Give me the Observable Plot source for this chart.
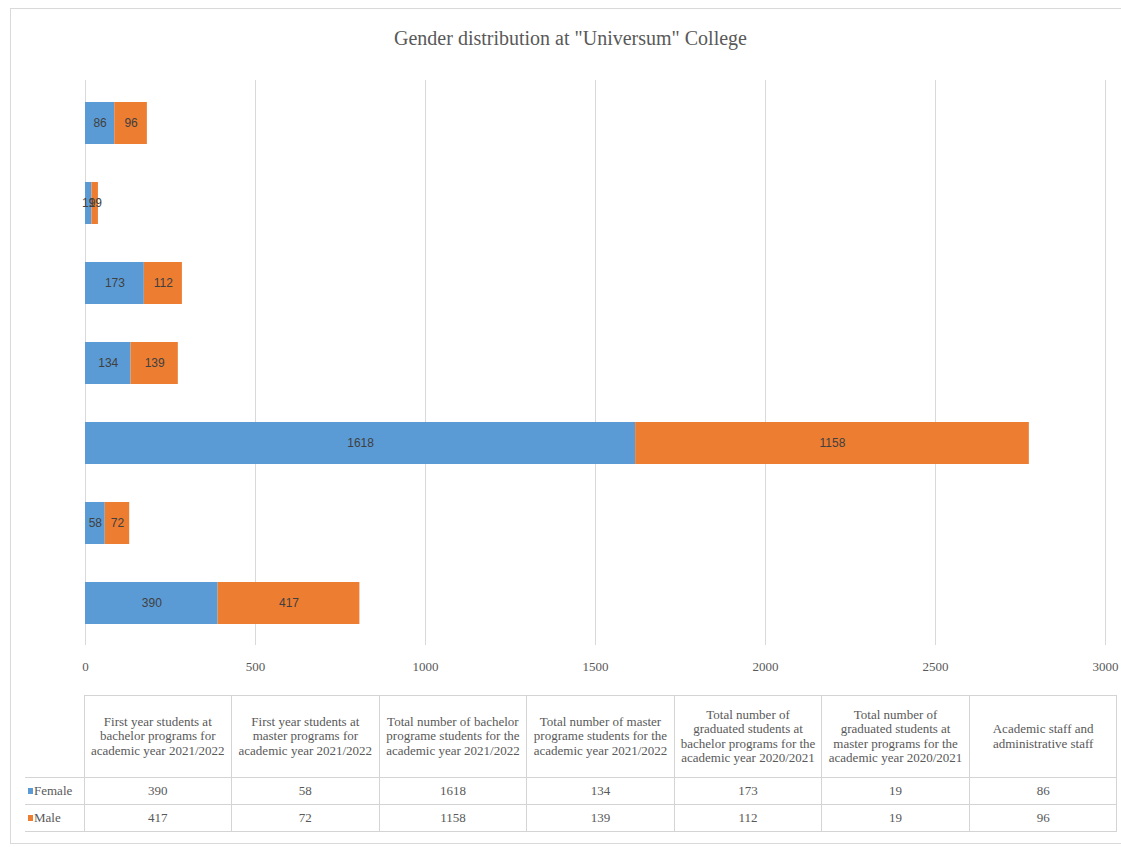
<!DOCTYPE html>
<html>
<head>
<meta charset="utf-8">
<script src="https://cdn.jsdelivr.net/npm/d3@7"></script>
<script src="https://cdn.jsdelivr.net/npm/@observablehq/plot@0.6"></script>
<style>
  body { margin: 0; background: #fff; font-family: "Liberation Serif", serif; }
  #frame { position: absolute; left: 10px; top: 8px; width: 1120px; height: 836px; border: 1px solid #d9d9d9; box-sizing: border-box; }
  #title { position: absolute; left: 0; top: 27px; width: 1141px; text-align: center; font-size: 20px; color: #595959; }
  #chart { position: absolute; left: 0; top: 0; }
  #tbl { position: absolute; left: 25px; top: 695px; border-collapse: collapse; table-layout: fixed; color: #595959; font-size: 13px; }
  #tbl td { border: 1px solid #d4d4d4; text-align: center; padding: 0; line-height: 14.5px; }
  #tbl td.hdr { height: 81px; white-space: pre-line; vertical-align: middle; }
  #tbl td.corner { border-top: none; border-left: none; }
  #tbl td.leg { text-align: left; padding-left: 3px; border-left: none; }
  #tbl tr.val td { height: 26px; }
  .sw { display: inline-block; width: 5px; height: 6px; margin-right: 1px; vertical-align: 1px; }
</style>
</head>
<body>
<div id="frame"></div>
<div id="title"></div>
<div id="chart"></div>
<table id="tbl"></table>
<script>
const title = "Gender distribution at \"Universum\" College";
const categories = [
  "First year students at\nbachelor programs for\nacademic year 2021/2022",
  "First year students at\nmaster programs for\nacademic year 2021/2022",
  "Total number of bachelor\nprograme students for the\nacademic year 2021/2022",
  "Total number of master\nprograme students for the\nacademic year 2021/2022",
  "Total number of\ngraduated students at\nbachelor programs for the\nacademic year 2020/2021",
  "Total number of\ngraduated students at\nmaster programs for the\nacademic year 2020/2021",
  "Academic staff and\nadministrative staff"
];
const female = [390, 58, 1618, 134, 173, 19, 86];
const male = [417, 72, 1158, 139, 112, 19, 96];
const seriesNames = ["Female", "Male"];
const seriesColors = ["#5B9BD5", "#ED7D31"];
const xTicks = [0, 500, 1000, 1500, 2000, 2500, 3000];

const seriesValues = [female, male];
const data = [];
seriesNames.forEach((s, si) => {
  categories.forEach((c, ci) => data.push({category: c, gender: s, value: seriesValues[si][ci]}));
});

document.getElementById("title").textContent = title;

const chart = Plot.plot({
  width: 1121,
  height: 690,
  marginLeft: 85,
  marginRight: 16,
  marginTop: 80,
  marginBottom: 45,
  style: {fontFamily: "Liberation Serif, serif", background: "transparent"},
  x: {domain: [0, 3000]},
  y: {type: "band", domain: categories.slice().reverse(), paddingInner: 0.48, paddingOuter: 0.24, axis: null},
  color: {domain: seriesNames, range: seriesColors},
  marks: [
    Plot.gridX(xTicks, {stroke: "#d9d9d9", strokeOpacity: 1, strokeWidth: 1}),
    Plot.axisX(xTicks, {tickSize: 0, tickPadding: 16, fontSize: 13, color: "#595959", label: null,
      tickFormat: d => String(d), fontFamily: "Liberation Serif, serif"}),
    Plot.barX(data, Plot.stackX({x: "value", y: "category", fill: "gender", order: null})),
    Plot.text(data, Plot.stackX({x: "value", y: "category", z: "gender", text: d => String(d.value), order: null,
      fill: "#404040", fontSize: 12, fontFamily: "Liberation Sans, sans-serif"}))
  ]
});
document.getElementById("chart").appendChild(chart);

// data table aligned to the category columns
const tbl = document.getElementById("tbl");
const colWidth = (1117 - 84) / categories.length;
const colgroup = document.createElement("colgroup");
const c0 = document.createElement("col"); c0.style.width = "59px"; colgroup.appendChild(c0);
categories.forEach(() => { const c = document.createElement("col"); c.style.width = colWidth + "px"; colgroup.appendChild(c); });
tbl.appendChild(colgroup);
tbl.style.width = (59 + colWidth * categories.length) + "px";

const hr = document.createElement("tr");
const corner = document.createElement("td"); corner.className = "corner"; hr.appendChild(corner);
categories.forEach(c => { const td = document.createElement("td"); td.className = "hdr"; td.textContent = c; hr.appendChild(td); });
tbl.appendChild(hr);

seriesNames.forEach((s, si) => {
  const tr = document.createElement("tr"); tr.className = "val";
  const lg = document.createElement("td"); lg.className = "leg";
  const sw = document.createElement("span"); sw.className = "sw"; sw.style.background = seriesColors[si];
  lg.appendChild(sw); lg.appendChild(document.createTextNode(s));
  tr.appendChild(lg);
  seriesValues[si].forEach(v => { const td = document.createElement("td"); td.textContent = v; tr.appendChild(td); });
  tbl.appendChild(tr);
});
</script>
</body>
</html>
